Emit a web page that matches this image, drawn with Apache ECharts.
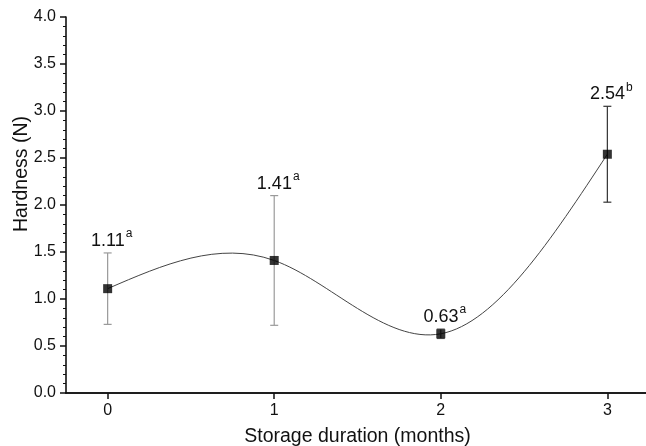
<!DOCTYPE html>
<html>
<head>
<meta charset="utf-8">
<script src="https://cdn.jsdelivr.net/npm/echarts@6/dist/echarts.min.js"></script>
<style>html,body{margin:0;padding:0;background:#fff}#c{width:646px;height:446px}</style>
</head>
<body>
<div id="c"></div>
<script>
// ---- data ----
const months = [0, 1, 2, 3];
const hardness = [1.11, 1.41, 0.63, 2.54];
const errLow = [0.73, 0.72, 0.58, 2.03];
const errHigh = [1.49, 2.10, 0.68, 3.05];
const letters = ['a', 'a', 'a', 'b'];
const valueLabels = ['1.11', '1.41', '0.63', '2.54'];
const xTickLabels = ['0', '1', '2', '3'];
const errColors = ['#9a9a9a', '#9a9a9a', '#555555', '#333333'];

const FONT = '"Liberation Sans", Arial, sans-serif';
const chart = echarts.init(document.getElementById('c'), null, {renderer: 'canvas'});

// natural cubic spline through pixel points -> bezier path
function splinePath(pts) {
  const n = pts.length;
  const h = [], M = new Array(n).fill(0);
  for (let i = 0; i < n - 1; i++) h.push(pts[i + 1][0] - pts[i][0]);
  const a = [], b = [], c = [], d = [];
  for (let i = 1; i < n - 1; i++) {
    a.push(h[i - 1]); b.push(2 * (h[i - 1] + h[i])); c.push(h[i]);
    d.push(6 * ((pts[i + 1][1] - pts[i][1]) / h[i] - (pts[i][1] - pts[i - 1][1]) / h[i - 1]));
  }
  const m = b.length;
  for (let i = 1; i < m; i++) {
    const w = a[i] / b[i - 1];
    b[i] -= w * c[i - 1]; d[i] -= w * d[i - 1];
  }
  const sol = new Array(m);
  for (let i = m - 1; i >= 0; i--) sol[i] = (d[i] - (i < m - 1 ? c[i] * sol[i + 1] : 0)) / b[i];
  for (let i = 0; i < m; i++) M[i + 1] = sol[i];
  let p = 'M' + pts[0][0] + ' ' + pts[0][1];
  for (let i = 0; i < n - 1; i++) {
    const hi = h[i];
    const s = (pts[i + 1][1] - pts[i][1]) / hi;
    const d0 = s - hi * (2 * M[i] + M[i + 1]) / 6;
    const d1 = s + hi * (M[i] + 2 * M[i + 1]) / 6;
    const c1x = pts[i][0] + hi / 3, c1y = pts[i][1] + d0 * hi / 3;
    const c2x = pts[i + 1][0] - hi / 3, c2y = pts[i + 1][1] - d1 * hi / 3;
    p += ' C' + c1x + ' ' + c1y + ' ' + c2x + ' ' + c2y + ' ' + pts[i + 1][0] + ' ' + pts[i + 1][1];
  }
  return p;
}

const option = {
  animation: false,
  backgroundColor: '#fff',
  grid: {left: 66, top: 17, bottom: 53, right: -3, containLabel: false, outerBoundsMode: 'none'},
  xAxis: [{
    type: 'value', min: -0.25, max: 3.25, interval: 1,
    axisLine: {show: true, onZero: false, lineStyle: {color: '#111', width: 1.6}},
    axisTick: {show: true, inside: false, length: 6, lineStyle: {color: '#111', width: 1.5},
      customValues: months},
    axisLabel: {show: true, margin: 10, fontSize: 16, color: '#111', fontFamily: FONT,
      customValues: months, formatter: v => xTickLabels[months.indexOf(v)]},
    splitLine: {show: false},
    name: 'Storage duration (months)', nameLocation: 'middle', nameGap: 34,
    nameTextStyle: {fontSize: 19.5, color: '#111', fontFamily: FONT}
  }, {
    type: 'value', position: 'top', min: -0.25, max: 3.25,
    axisLine: {show: true, lineStyle: {color: '#111', width: 1.6}},
    axisTick: {show: false}, axisLabel: {show: false}, splitLine: {show: false}
  }],
  yAxis: {
    type: 'value', min: 0, max: 4, interval: 0.5,
    axisLine: {show: true, onZero: false, lineStyle: {color: '#111', width: 1.6}},
    axisTick: {show: true, inside: false, length: 6, lineStyle: {color: '#111', width: 1.5}},
    minorTick: {show: true, splitNumber: 5, length: 3, lineStyle: {color: '#111', width: 1}},
    axisLabel: {margin: 10, fontSize: 16, color: '#111', fontFamily: FONT, formatter: v => v.toFixed(1)},
    splitLine: {show: false}
  },
  graphic: [{
    type: 'text', x: 22, y: 174, rotation: Math.PI / 2,
    style: {text: 'Hardness (N)', fontSize: 19.5, fill: '#111', fontFamily: FONT,
      align: 'center', verticalAlign: 'middle'}
  }],
  series: [
    {
      type: 'custom', z: 2,
      data: [[months[0], hardness[0]]],
      renderItem: function (params, api) {
        const pts = months.map((m, i) => api.coord([m, hardness[i]]));
        return {type: 'path', shape: {pathData: splinePath(pts)},
          style: {stroke: '#444', lineWidth: 1, fill: null}};
      }
    },
    {
      type: 'custom', z: 3,
      data: months.map((m, i) => [m, errLow[i], errHigh[i], i]),
      renderItem: function (params, api) {
        const x = api.value(0), i = api.value(3);
        const lo = api.coord([x, api.value(1)]);
        const hi = api.coord([x, api.value(2)]);
        const cw = 4;
        const st = {stroke: errColors[i], lineWidth: 1.2};
        return {type: 'group', children: [
          {type: 'line', shape: {x1: lo[0], y1: lo[1], x2: hi[0], y2: hi[1]}, style: st},
          {type: 'line', shape: {x1: lo[0] - cw, y1: lo[1], x2: lo[0] + cw, y2: lo[1]}, style: st},
          {type: 'line', shape: {x1: hi[0] - cw, y1: hi[1], x2: hi[0] + cw, y2: hi[1]}, style: st}
        ]};
      }
    },
    {
      type: 'scatter', z: 4, symbol: 'rect', symbolSize: 9,
      itemStyle: {color: '#000'},
      data: months.map((m, i) => [m, hardness[i]])
    },
    {
      type: 'custom', z: 5,
      data: months.map((m, i) => [m, errHigh[i], i]),
      renderItem: function (params, api) {
        const i = api.value(2);
        const p = api.coord([api.value(0), api.value(1)]);
        return {type: 'text', x: p[0] + 4, y: p[1] - 3,
          style: {
            text: '{v|' + valueLabels[i] + '}{s|' + letters[i] + '}',
            align: 'center', verticalAlign: 'bottom',
            rich: {
              v: {fontSize: 18, fontFamily: FONT, fill: '#111', color: '#111', lineHeight: 22, verticalAlign: 'bottom'},
              s: {fontSize: 12, fontFamily: FONT, fill: '#111', color: '#111', lineHeight: 22, verticalAlign: 'top', padding: [0, 0, 0, 1]}
            }
          }};
      }
    }
  ]
};
chart.setOption(option);
</script>
</body>
</html>
